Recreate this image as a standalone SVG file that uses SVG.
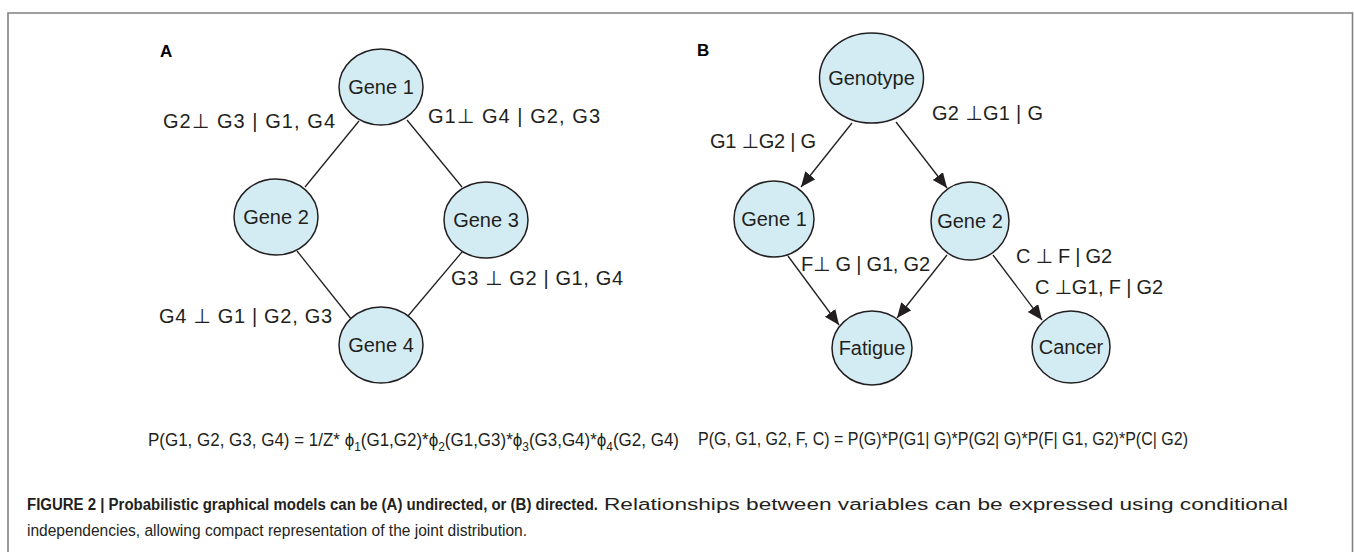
<svg xmlns="http://www.w3.org/2000/svg" width="1354" height="552" viewBox="0 0 1354 552">
<style>
.node{fill:#d3ecf3;stroke:#231f20;stroke-width:1.5}
.nt{font-family:"Liberation Sans",Arial,sans-serif;font-size:20px;fill:#231f20;text-anchor:middle}
.lbl{font-family:"Liberation Sans","DejaVu Sans",sans-serif;font-size:20px;fill:#231f20}
.edge{stroke:#231f20;stroke-width:1.3;fill:none}
.panel{font-family:"Liberation Sans",Arial,sans-serif;font-size:17px;font-weight:bold;fill:#000}
.fm{font-family:"Liberation Sans Narrow","Liberation Sans",sans-serif;font-size:18.5px;fill:#231f20}
.sub{font-size:13px}
.cap{font-family:"Liberation Sans Narrow","Liberation Sans",sans-serif;font-size:16px;fill:#231f20}
.capb{font-weight:bold}
.frame{stroke:#808080;stroke-width:1.6;fill:none}
</style>
<defs>
<marker id="arr" markerUnits="userSpaceOnUse" markerWidth="16" markerHeight="14" refX="15" refY="6.5" orient="auto">
<path d="M0,0 L15,6.5 L0,13 z" fill="#231f20"/>
</marker>
</defs>
<path class="frame" d="M8,560 V13 H1352.5 V560"/>
<text class="panel" x="160" y="57">A</text>
<text class="panel" x="697" y="56">B</text>
<g id="connectors">
<line class="edge" x1="359" y1="121" x2="305" y2="187"/>
<line class="edge" x1="407" y1="120" x2="462" y2="187"/>
<line class="edge" x1="297" y1="251" x2="352" y2="320"/>
<line class="edge" x1="462" y1="252" x2="408" y2="316"/>
<line class="edge" x1="852" y1="123" x2="801" y2="187" marker-end="url(#arr)"/>
<line class="edge" x1="896" y1="122" x2="947" y2="188" marker-end="url(#arr)"/>
<line class="edge" x1="788" y1="256" x2="839" y2="325" marker-end="url(#arr)"/>
<line class="edge" x1="947" y1="255" x2="897" y2="318" marker-end="url(#arr)"/>
<line class="edge" x1="993" y1="255" x2="1042" y2="320" marker-end="url(#arr)"/>
</g>
<g id="a-gene1"><ellipse class="node" cx="381" cy="87" rx="42" ry="38"/><text class="nt" x="381" y="94">Gene 1</text></g>
<g id="a-gene2"><ellipse class="node" cx="276" cy="217" rx="42" ry="38"/><text class="nt" x="276" y="224">Gene 2</text></g>
<g id="a-gene3"><ellipse class="node" cx="486" cy="220" rx="42" ry="38"/><text class="nt" x="486" y="227">Gene 3</text></g>
<g id="a-gene4"><ellipse class="node" cx="381" cy="345" rx="42" ry="38"/><text class="nt" x="381" y="352">Gene 4</text></g>
<g id="b-genotype"><ellipse class="node" cx="871.5" cy="78" rx="52" ry="45"/><text class="nt" x="871.5" y="85">Genotype</text></g>
<g id="b-gene1"><ellipse class="node" cx="774" cy="219" rx="40" ry="38"/><text class="nt" x="774" y="226">Gene 1</text></g>
<g id="b-gene2"><ellipse class="node" cx="970" cy="221" rx="39" ry="39"/><text class="nt" x="970" y="228">Gene 2</text></g>
<g id="b-fatigue"><ellipse class="node" cx="872" cy="348" rx="40" ry="37"/><text class="nt" x="872" y="355">Fatigue</text></g>
<g id="b-cancer"><ellipse class="node" cx="1071" cy="347" rx="39" ry="36"/><text class="nt" x="1071" y="354">Cancer</text></g>
<g id="labels">
<text class="lbl" x="163" y="128" textLength="172" lengthAdjust="spacing">G2⊥ G3 | G1, G4</text>
<text class="lbl" x="428" y="123" textLength="172" lengthAdjust="spacing">G1⊥ G4 | G2, G3</text>
<text class="lbl" x="451" y="285" textLength="172" lengthAdjust="spacing">G3 ⊥ G2 | G1, G4</text>
<text class="lbl" x="159" y="323" textLength="173" lengthAdjust="spacing">G4 ⊥ G1 | G2, G3</text>
<text class="lbl" x="932" y="120" textLength="111" lengthAdjust="spacing">G2 ⊥G1 | G</text>
<text class="lbl" x="710" y="148" textLength="106" lengthAdjust="spacing">G1 ⊥G2 | G</text>
<text class="lbl" x="801" y="271" textLength="129" lengthAdjust="spacing">F⊥ G | G1, G2</text>
<text class="lbl" x="1016" y="263" textLength="96" lengthAdjust="spacing">C ⊥ F | G2</text>
<text class="lbl" x="1035" y="294" textLength="128" lengthAdjust="spacing">C ⊥G1, F | G2</text>
</g>
<text class="fm" x="148" y="446" textLength="531" lengthAdjust="spacingAndGlyphs">P(G1, G2, G3, G4) = 1/Z* ϕ<tspan class="sub" dy="5">1</tspan><tspan dy="-5">(G1,G2)*ϕ</tspan><tspan class="sub" dy="5">2</tspan><tspan dy="-5">(G1,G3)*ϕ</tspan><tspan class="sub" dy="5">3</tspan><tspan dy="-5">(G3,G4)*ϕ</tspan><tspan class="sub" dy="5">4</tspan><tspan dy="-5">(G2, G4)</tspan></text>
<text class="fm" x="698" y="445" textLength="490" lengthAdjust="spacingAndGlyphs">P(G, G1, G2, F, C) = P(G)*P(G1| G)*P(G2| G)*P(F| G1, G2)*P(C| G2)</text>
<text class="cap capb" x="27" y="510" textLength="571" lengthAdjust="spacingAndGlyphs">FIGURE 2 | Probabilistic graphical models can be (A) undirected, or (B) directed.</text>
<text class="cap" x="604" y="510" textLength="684" lengthAdjust="spacingAndGlyphs">Relationships between variables can be expressed using conditional</text>
<text class="cap" x="27" y="536" textLength="500" lengthAdjust="spacingAndGlyphs">independencies, allowing compact representation of the joint distribution.</text>
</svg>
